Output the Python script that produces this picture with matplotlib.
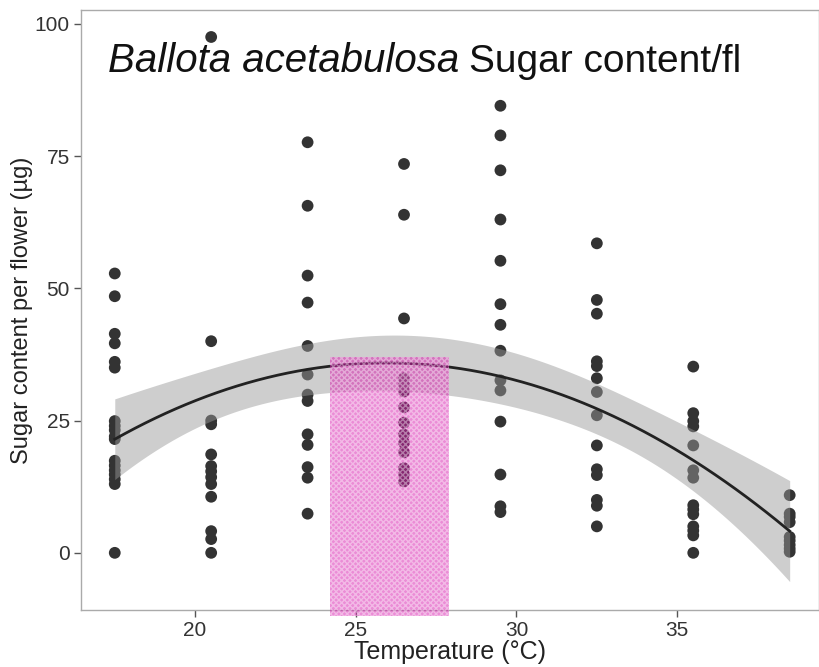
import numpy as np
import matplotlib
matplotlib.use("Agg")
import matplotlib.pyplot as plt
from matplotlib.patches import Rectangle

plt.rcParams['font.family'] = ['Liberation Sans', 'DejaVu Sans']

# Sugar content per flower (µg) measured at each temperature (°C)
temperatures = [17.5, 20.5, 23.5, 26.5, 29.5, 32.5, 35.5, 38.5]
sugar_17_5 = [52.8, 48.5, 41.4, 39.6, 36.1, 35.0, 24.9, 24.0, 23.2, 22.0, 21.5,
              17.4, 16.5, 15.6, 14.8, 13.9, 13.0, 0.0]
sugar_20_5 = [97.5, 40.0, 25.0, 24.3, 18.6, 16.4, 15.4, 14.3, 13.0, 10.6, 4.1, 2.6, 0.0]
sugar_23_5 = [77.6, 65.6, 52.4, 47.3, 39.1, 33.7, 29.9, 28.7, 22.4, 20.4, 16.2, 14.2, 7.4]
sugar_26_5 = [73.5, 63.9, 44.3, 33.0, 31.8, 30.5, 27.5, 24.6, 22.4, 20.8, 19.0, 16.0, 14.8, 13.5]
sugar_29_5 = [84.5, 78.9, 72.3, 63.0, 55.2, 47.0, 43.1, 38.2, 32.6, 30.7, 24.8, 14.8, 8.8, 7.7]
sugar_32_5 = [58.5, 47.8, 45.2, 36.2, 35.3, 33.0, 30.4, 26.0, 20.3, 15.8, 14.7, 10.0, 8.9, 5.0]
sugar_35_5 = [35.2, 26.4, 24.9, 23.9, 20.3, 15.6, 14.2, 9.0, 8.2, 7.3, 5.0, 4.2, 3.3, 0.0]
sugar_38_5 = [10.9, 7.4, 6.8, 5.8, 3.0, 2.3, 1.5, 0.8, 0.2]
sugar_by_temp = [sugar_17_5, sugar_20_5, sugar_23_5, sugar_26_5,
                 sugar_29_5, sugar_32_5, sugar_35_5, sugar_38_5]

# Highlighted temperature band and its upper sugar level
band_temp = [24.2, 27.9]
band_sugar = [-12.0, 37.0]

x_ticks = [20, 25, 30, 35]
y_ticks = [0, 25, 50, 75, 100]

x = np.concatenate([np.full(len(v), t) for t, v in zip(temperatures, sugar_by_temp)])
y = np.concatenate([np.asarray(v, float) for v in sugar_by_temp])

# Quadratic least-squares fit with 95% confidence band
X = np.column_stack([np.ones_like(x), x, x ** 2])
beta, *_ = np.linalg.lstsq(X, y, rcond=None)
resid = y - X @ beta
dof = len(y) - X.shape[1]
sigma2 = resid @ resid / dof
cov = sigma2 * np.linalg.inv(X.T @ X)
z = 1.959964
t_crit = z + (z ** 3 + z) / (4 * dof)
xs = np.linspace(min(temperatures), max(temperatures), 200)
Xs = np.column_stack([np.ones_like(xs), xs, xs ** 2])
fit = Xs @ beta
se = np.sqrt(np.einsum('ij,jk,ik->i', Xs, cov, Xs))

fig = plt.figure(figsize=(8.2, 6.67), dpi=100)
ax = fig.add_axes([0.0988, 0.0855, 0.8995, 0.8995])

ax.scatter(x, y, s=72, color='#333333', edgecolors='none', zorder=2)
ax.fill_between(xs, fit - t_crit * se, fit + t_crit * se, color='#999999',
                alpha=0.48, linewidth=0, zorder=3)
ax.plot(xs, fit, color='#222222', lw=2.0, zorder=4)

band = Rectangle((band_temp[0], band_sugar[0]), band_temp[1] - band_temp[0],
                 band_sugar[1] - band_sugar[0], facecolor='#d81aae', alpha=0.5,
                 edgecolor='none', zorder=5, clip_on=False)
ax.add_patch(band)
hatch = Rectangle((band_temp[0], band_sugar[0]), band_temp[1] - band_temp[0],
                  band_sugar[1] - band_sugar[0], facecolor='none', hatch='xxxxxx',
                  edgecolor='#ffffff', alpha=0.4, linewidth=0, zorder=6, clip_on=False)
ax.add_patch(hatch)

ax.set_xlim(16.45, 39.4)
ax.set_ylim(-10.8, 102.6)
ax.set_xticks(x_ticks)
ax.set_yticks(y_ticks)
for sp in ax.spines.values():
    sp.set_color('#aaaaaa')
    sp.set_linewidth(1.0)
ax.tick_params(axis='both', colors='#555555', length=5, width=1.0,
               labelsize=15, labelcolor='#333333')
ax.tick_params(axis='x', pad=3)
ax.tick_params(axis='y', pad=3)

ax.set_xlabel('Temperature (°C)', fontsize=18, color='#222222', labelpad=0)
ax.set_ylabel('Sugar content per flower (µg)', fontsize=17, color='#222222', labelpad=1)

t1 = ax.text(0.0366, 0.897, 'Ballota acetabulosa', transform=ax.transAxes,
             fontsize=29, fontstyle='italic', va='baseline', ha='left',
             color='#111111', zorder=1)
fig.canvas.draw()
bb = t1.get_window_extent(renderer=fig.canvas.get_renderer())
x_end = ax.transAxes.inverted().transform((bb.x1 + 10, bb.y0))[0]
ax.text(x_end, 0.897, 'Sugar content/fl', transform=ax.transAxes,
        fontsize=28, va='baseline', ha='left', color='#111111', zorder=1)

fig.savefig('out.png', dpi=100)
